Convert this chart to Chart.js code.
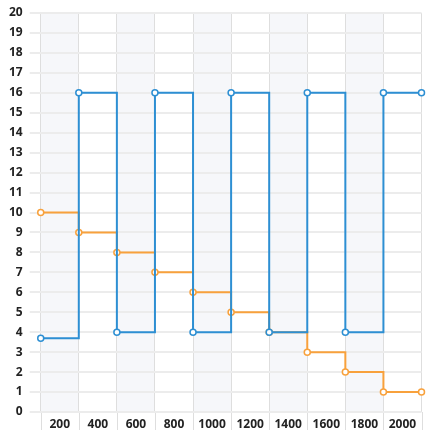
<!DOCTYPE html>
<html>
<head>
<meta charset="utf-8">
<script src="https://cdn.jsdelivr.net/npm/chart.js@4"></script>
<style>
  html, body { margin: 0; padding: 0; background: #fff; }
  #wrap { width: 427px; height: 430px; }
</style>
</head>
<body>
<div id="wrap"><canvas id="step-chart"></canvas></div>
<script>
// tick labels along the bottom, one per band
var bandLabels = ["200", "400", "600", "800", "1000", "1200", "1400", "1600", "1800", "2000"];
// x positions of the points (band edges)
var xValues = [100, 300, 500, 700, 900, 1100, 1300, 1500, 1700, 1900, 2100];
var blueValues = [3.7, 16, 4, 16, 4, 16, 4, 16, 4, 16, 16];
var orangeValues = [10, 9, 8, 7, 6, 5, 4, 3, 2, 1, 1];

function toPoints(ys) {
    return ys.map(function (y, i) { return { x: xValues[i], y: y }; });
}

// light shading on every other band, and band separators down through the labels
var bandPlugin = {
    id: "bands",
    beforeDraw: function (chart) {
        var ctx = chart.ctx;
        var area = chart.chartArea;
        var scale = chart.scales.x;
        var w = (area.right - area.left) / bandLabels.length;
        ctx.save();
        ctx.fillStyle = "#f6f7fa";
        for (var i = 0; i < bandLabels.length; i += 2) {
            var c = scale.getPixelForValue(i);
            ctx.fillRect(c - w / 2, area.top, w, area.bottom - area.top);
        }
        ctx.strokeStyle = "#dedede";
        ctx.lineWidth = 1;
        for (var j = 0; j <= bandLabels.length; j++) {
            var x = Math.round(scale.getPixelForValue(j) - w / 2) + 0.5;
            ctx.beginPath();
            ctx.moveTo(x, area.bottom);
            ctx.lineTo(x, chart.height);
            ctx.stroke();
        }
        ctx.restore();
    }
};

var font = { family: "'Open Sans', sans-serif", size: 12, weight: "bold", lineHeight: 1 };

var canvas = document.getElementById("step-chart");

var chart = new Chart(canvas, {
    type: "line",
    data: {
        labels: bandLabels,
        datasets: [
            {
                label: "Blue",
                data: toPoints(blueValues),
                xAxisID: "x2",
                stepped: true,
                borderColor: "#2d8fd3",
                borderWidth: 2,
                pointRadius: 3,
                pointBorderWidth: 1.5,
                pointBackgroundColor: "#ffffff",
                pointBorderColor: "#2d8fd3",
                clip: false
            },
            {
                label: "Orange",
                data: toPoints(orangeValues),
                xAxisID: "x2",
                stepped: true,
                borderColor: "#f8a13c",
                borderWidth: 2,
                pointRadius: 3,
                pointBorderWidth: 1.5,
                pointBackgroundColor: "#ffffff",
                pointBorderColor: "#f8a13c",
                clip: false
            }
        ]
    },
    options: {
        responsive: true,
        maintainAspectRatio: false,
        animation: false,
        layout: { padding: { top: 13, right: 3, bottom: 0, left: 2 } },
        plugins: {
            legend: { display: false },
            tooltip: { enabled: false }
        },
        scales: {
            x: {
                type: "category",
                offset: true,
                border: { display: false },
                grid: {
                    offset: true,
                    color: "#dedede",
                    lineWidth: 1,
                    drawTicks: false
                },
                ticks: {
                    color: "#222",
                    font: font,
                    padding: 7,
                    maxRotation: 0,
                    autoSkip: false
                },
                afterFit: function (scale) {
                    scale.height = 18;
                }
            },
            x2: {
                type: "linear",
                display: false,
                min: 100,
                max: 2100
            },
            y: {
                min: 0,
                max: 20,
                border: { display: false },
                grid: {
                    color: "#ececec",
                    lineWidth: 2,
                    tickLength: 11
                },
                ticks: {
                    stepSize: 1,
                    color: "#222",
                    font: font,
                    padding: 7
                }
            }
        }
    },
    plugins: [bandPlugin]
});
</script>
</body>
</html>
